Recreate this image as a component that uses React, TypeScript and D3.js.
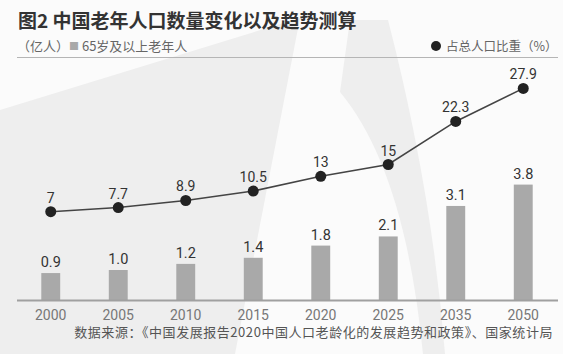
import * as d3 from "d3";

const years = ["2000", "2005", "2010", "2015", "2020", "2025", "2035", "2050"];
const elderly = [0.9, 1.0, 1.2, 1.4, 1.8, 2.1, 3.1, 3.8];
const elderlyLabels = ["0.9", "1.0", "1.2", "1.4", "1.8", "2.1", "3.1", "3.8"];
const share = [7, 7.7, 8.9, 10.5, 13, 15, 22.3, 27.9];

const title = "图2 中国老年人口数量变化以及趋势测算";
const unitLabel = "（亿人）";
const barLegend = "65岁及以上老年人";
const lineLegend = "占总人口比重（%）";
const source = "数据来源：《中国发展报告2020中国人口老龄化的发展趋势和政策》、国家统计局";

const W = 563;
const H = 354;
const cjk = '"Noto Sans CJK SC", "Noto Sans", sans-serif';
const num = 'Roboto, "Noto Sans", sans-serif';

export default function App() {
  const x = d3
    .scaleBand<string>()
    .domain(years)
    .range([17, 557])
    .paddingInner(0.72)
    .paddingOuter(0.36);

  const yBar = d3.scaleLinear().domain([0, 4]).range([300.5, 178.5]);
  const yLine = d3.scaleLinear().domain([0, 30]).range([253, 76]);

  const cx = (y: string) => (x(y) ?? 0) + x.bandwidth() / 2;

  const line = d3
    .line<number>()
    .x((_, i) => cx(years[i]))
    .y((d) => yLine(d));

  return (
    <svg
      width={W}
      height={H}
      style={{ position: "absolute", left: 0, top: 0, background: "#fbfbfb" }}
    >
      {/* background decoration */}
      <path d="M0,110 L300,18 L235,354 L0,354 Z" fill="#eeeeee" />
      <path d="M350,20 L340,92 Q405,170 423,354 L445,354 Q432,190 388,20 Z" fill="#eeeeee" />

      <text x={18} y={28} fontFamily={cjk} fontWeight="bold" fontSize={19} fill="#333">
        {title}
      </text>
      <text x={17} y={51} fontFamily={cjk} fontSize={13} fill="#666">
        {unitLabel}
        <tspan fill="#a9a9a9" fontSize={10} dy={-1}>■</tspan>
        <tspan dy={1}> {barLegend}</tspan>
      </text>
      <circle cx={436} cy={46} r={5} fill="#222" />
      <text x={446} y={51} fontFamily={cjk} fontSize={12.5} fill="#666">
        {lineLegend}
      </text>
      <line x1={17} x2={558} y1={57.5} y2={57.5} stroke="#b5b5b5" strokeWidth={1} />

      {/* bars */}
      {elderly.map((v, i) => (
        <g key={years[i]}>
          <rect
            x={x(years[i])}
            y={yBar(v)}
            width={x.bandwidth()}
            height={yBar(0) - yBar(v)}
            fill="#a9a9a9"
          />
          <text
            x={cx(years[i])}
            y={yBar(v) - 6}
            textAnchor="middle"
            fontFamily={num}
            fontSize={14.5}
            fill="#333"
          >
            {elderlyLabels[i]}
          </text>
        </g>
      ))}

      {/* axis */}
      <line x1={17} x2={558} y1={300.5} y2={300.5} stroke="#a0a0a0" strokeWidth={2} />
      {years.map((y) => (
        <text
          key={y}
          x={cx(y)}
          y={320}
          textAnchor="middle"
          fontFamily={num}
          fontSize={14}
          fill="#777"
        >
          {y}
        </text>
      ))}

      {/* line */}
      <path d={line(share) ?? ""} fill="none" stroke="#444" strokeWidth={1.6} />
      {share.map((v, i) => (
        <g key={"p" + years[i]}>
          <circle cx={cx(years[i])} cy={yLine(v)} r={5.5} fill="#222" />
          <text
            x={cx(years[i])}
            y={yLine(v) - 9}
            textAnchor="middle"
            fontFamily={num}
            fontSize={14}
            fill="#333"
          >
            {v}
          </text>
        </g>
      ))}

      <text
        x={553}
        y={337}
        textAnchor="end"
        fontFamily={cjk}
        fontSize={13}
        letterSpacing={0.55}
        fill="#555"
      >
        {source}
      </text>
    </svg>
  );
}
